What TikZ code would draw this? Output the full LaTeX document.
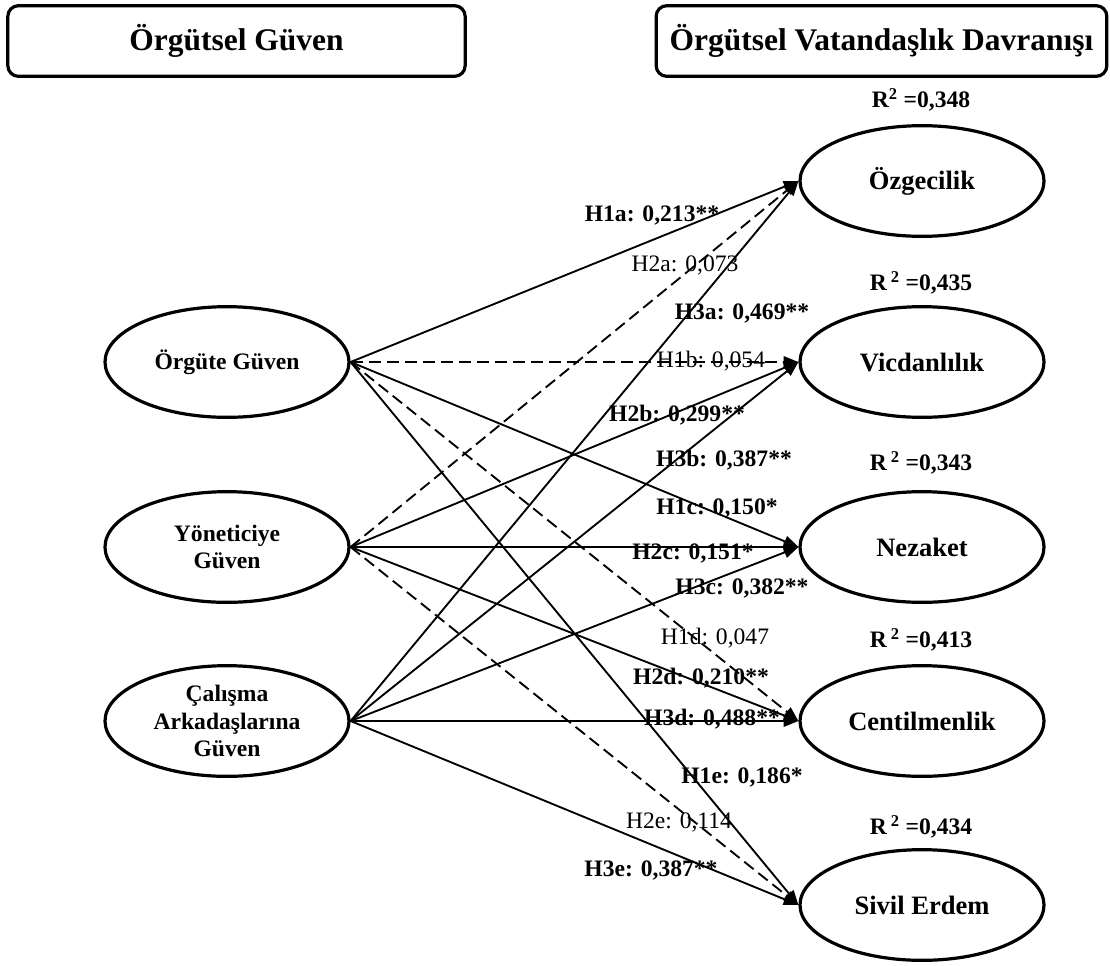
\documentclass[tikz,border=0pt]{standalone}
\usepackage{fontspec}
\setmainfont{Liberation Serif}
\usetikzlibrary{arrows.meta,shapes.geometric}

\begin{document}
\begin{tikzpicture}[x=0.75pt,y=-0.75pt]
	\useasboundingbox (0,0) rectangle (1110,965);

	\tikzstyle{title box}=[draw,line width=2.4pt,rounded corners=8pt,inner sep=0pt,minimum height=53pt,font=\fontsize{23.6}{28}\selectfont\bfseries]
	\tikzstyle{latent}=[draw,ellipse,line width=2.4pt,minimum width=183pt,minimum height=83pt,inner sep=0pt,align=center,font=\fontsize{17.7}{20.3}\selectfont\bfseries]
	\tikzstyle{outcome}=[latent,font=\fontsize{19.9}{23}\selectfont\bfseries]
	\tikzstyle{rsq}=[inner sep=0pt,font=\fontsize{17.7}{20}\selectfont\bfseries]
	\tikzstyle{path}=[line width=1.4pt,-{Triangle[length=11pt,width=8.5pt]}]
	\tikzstyle{ns path}=[path,dash pattern=on 9pt off 4.5pt]
	\tikzstyle{sig}=[inner sep=0pt,font=\fontsize{17.7}{20}\selectfont\bfseries]
	\tikzstyle{nsig}=[inner sep=0pt,font=\fontsize{17.7}{20}\selectfont]

	% Draw the headings.
	\node (trust) [title box, minimum width=343pt] at (236.5,41) {Örgütsel Güven};
	\node (ocb) [title box, minimum width=338pt] at (881.5,41) {Örgütsel Vatandaşlık Davranışı};

	% Trust dimensions.
	\node (og) [latent] at (227,362) {Örgüte Güven};
	\node (yg) [latent] at (227,547) {Yöneticiye\\Güven};
	\node (cg) [latent] at (227,721) {Çalışma\\Arkadaşlarına\\Güven};

	% Citizenship dimensions.
	\node (ozg) [outcome] at (922,181) {Özgecilik};
	\node (vic) [outcome] at (922,362) {Vicdanlılık};
	\node (nez) [outcome] at (922,547) {Nezaket};
	\node (cen) [outcome] at (922,721) {Centilmenlik};
	\node (siv) [outcome] at (922,905) {Sivil Erdem};

	\node (r1) [rsq] at (921,100) {R\textsuperscript{2} =0,348};
	\node (r2) [rsq] at (921,283) {R\,\textsuperscript{2} =0,435};
	\node (r3) [rsq] at (921,463) {R\,\textsuperscript{2} =0,343};
	\node (r4) [rsq] at (921,640) {R\,\textsuperscript{2} =0,413};
	\node (r5) [rsq] at (921,827) {R\,\textsuperscript{2} =0,434};

	% Paths: solid = significant, dashed = not significant.
	\foreach \src/\dst in {og/ozg,og/nez,og/siv,yg/vic,yg/nez,yg/cen,cg/ozg,cg/vic,cg/nez,cg/cen,cg/siv}
		\draw [path] (\src.east) -- (\dst.west);
	\foreach \src/\dst in {og/vic,og/cen,yg/ozg,yg/siv}
		\draw [ns path] (\src.east) -- (\dst.west);

	% Path coefficients.
	\foreach \n/\x/\y/\t in {h1a/652/215/{H1a: 0,213**},h2b/677/415/{H2b: 0,299**},
		h3a/742/313/{H3a: 0,469**},h3b/724/460/{H3b: 0,387**},h1c/717/508/{H1c: 0,150*},
		h2c/693/553/{H2c: 0,151*},h3c/742/588/{H3c: 0,382**},h2d/701/678/{H2d: 0,210**},
		h3d/712/719/{H3d: 0,488**},h1e/742/777/{H1e: 0,186*},h3e/651/870/{H3e: 0,387**}}
		\node (\n) [sig] at (\x,\y) {\t};
	\foreach \n/\x/\y/\t in {h2a/685/265/{H2a: 0,073},h1b/711/361/{H1b: 0,054},
		h1d/715/638/{H1d: 0,047},h2e/679/822/{H2e: 0,114}}
		\node (\n) [nsig] at (\x,\y) {\t};
\end{tikzpicture}
\end{document}
